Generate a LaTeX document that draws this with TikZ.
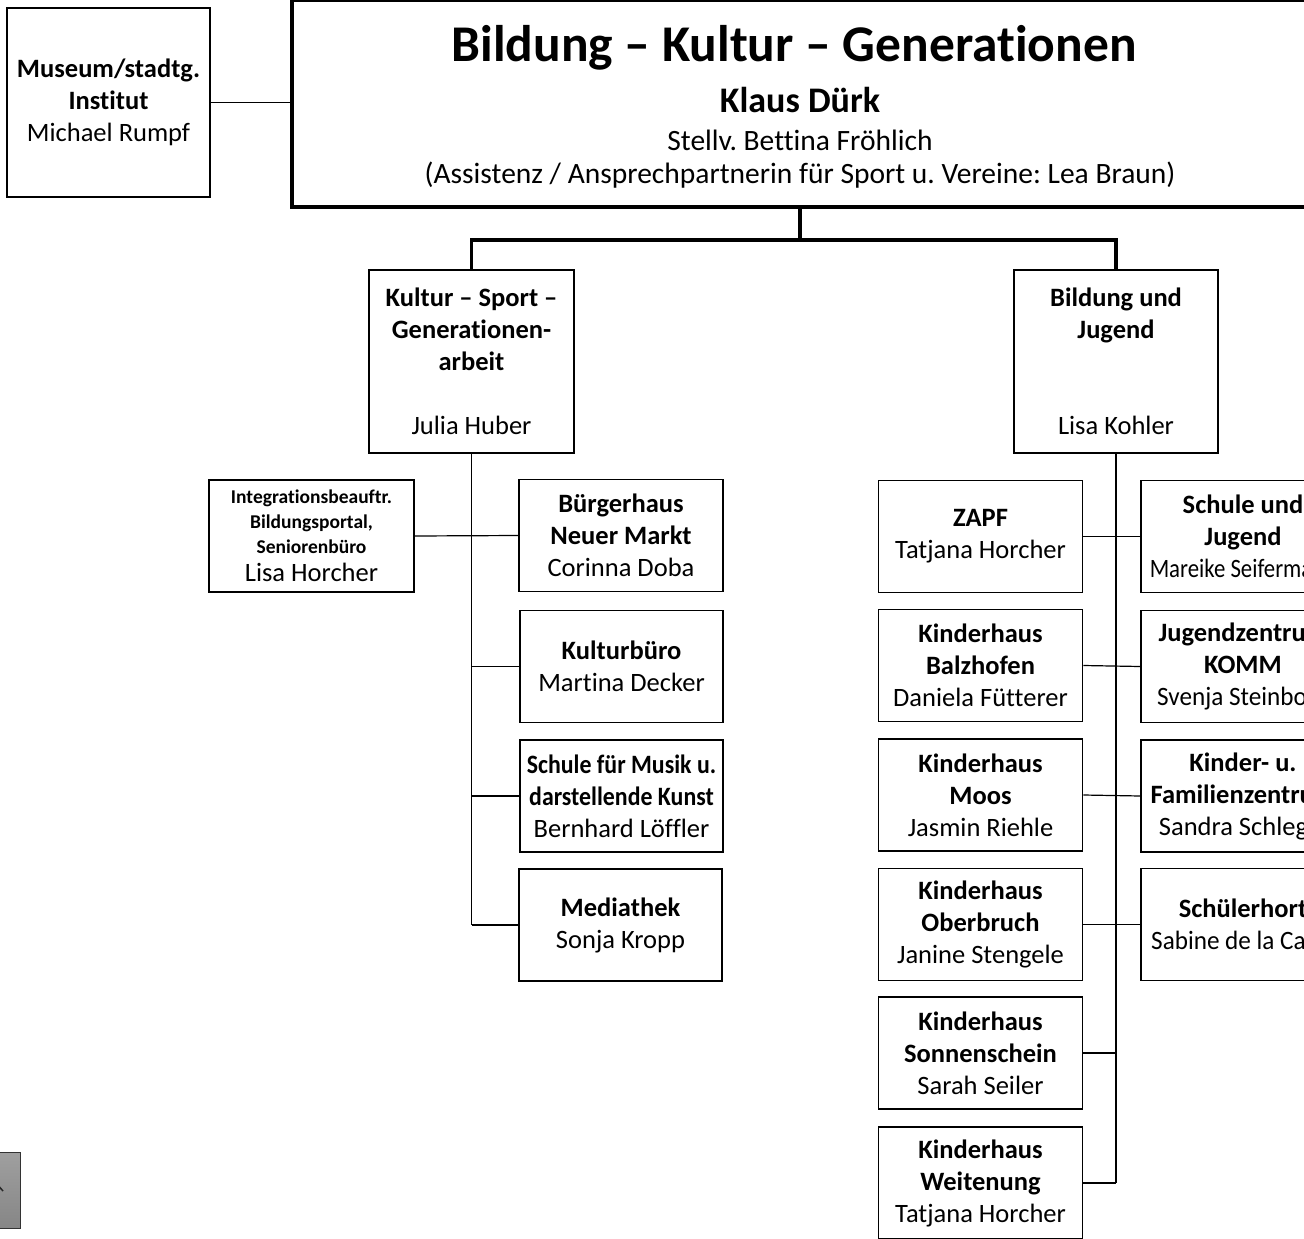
\documentclass[tikz,border=0pt]{standalone}
\usepackage{fontspec}
\setmainfont{Carlito}[Ligatures=NoCommon]
\newcommand\smallbold[1]{{\bfseries\fontsize{19.5}{24}\selectfont #1}}
\frenchspacing
\begin{document}
\begin{tikzpicture}[x=1pt,y=-1pt,
  box/.style={draw, line width=1.5pt, inner sep=0pt, align=center, fill=white,
              font=\fontsize{26.5}{32}\selectfont},
  wide/.style={box, minimum width=204, minimum height=112},
  conn/.style={line width=1.2pt},
  thick conn/.style={line width=3.5pt},
  hdtext/.style={font=\fontsize{29.5}{34}\selectfont},
]
\useasboundingbox (0,0) rectangle (1304,1239);
\clip (0,0) rectangle (1304,1239);

% top box
\node[draw, line width=4pt, minimum width=1016, minimum height=207, inner sep=0pt] (top) at (800,103.5) {};
\node[font=\bfseries\fontsize{51.5}{60}\selectfont] (title) at (794,48) {Bildung – Kultur – Generationen};
\node[font=\bfseries\fontsize{36}{40}\selectfont] (head) at (800,100) {Klaus Dürk};
\node[hdtext] (dep) at (800,140) {Stellv. Bettina Fröhlich};
\node[hdtext] (asst) at (800,175) {(Assistenz / Ansprechpartnerin für Sport u. Vereine: Lea Braun)};

% museum
\node[box, minimum width=203, minimum height=189] (mus) at (108.5,102.5)
  {\textbf{Museum/stadtg.}\\\textbf{Institut}\\Michael Rumpf};

% level 2
\node[box, minimum width=205, minimum height=183] (kul) at (471.5,361.5)
  {\textbf{Kultur – Sport –}\\\textbf{Generationen-}\\\textbf{arbeit}\\[32pt]Julia Huber};
\node[box, minimum width=204, minimum height=183] (bil) at (1116,361.5)
  {\textbf{Bildung und}\\\textbf{Jugend}\\[64pt]Lisa Kohler};

% left branch
\node[box, minimum width=205, minimum height=112] (integ) at (311.5,536)
  {\smallbold{Integrationsbeauftr.}\\[-7pt]\smallbold{Bildungsportal,}\\[-7pt]\smallbold{Seniorenbüro}\\[-4pt]Lisa Horcher};
\node[wide] (bue) at (621,535.5) {\textbf{Bürgerhaus}\\\textbf{Neuer Markt}\\Corinna Doba};
\node[wide, minimum width=203] (kb) at (621.5,666.5) {\textbf{Kulturbüro}\\Martina Decker};
\node[wide, minimum width=203] (smu) at (621.5,796)
  {\scalebox{0.9}[1]{\textbf{Schule für Musik u.}}\\\scalebox{0.9}[1]{\textbf{darstellende Kunst}}\\Bernhard Löffler};
\node[wide, minimum width=203] (med) at (620.5,925) {\textbf{Mediathek}\\Sonja Kropp};

% right branch, left column
\node[wide] (zapf) at (980.5,536.5) {\textbf{ZAPF}\\Tatjana Horcher};
\node[wide] (bal) at (980.5,665.5) {\textbf{Kinderhaus}\\\textbf{Balzhofen}\\Daniela Fütterer};
\node[wide] (moos) at (980.5,795) {\textbf{Kinderhaus}\\\textbf{Moos}\\Jasmin Riehle};
\node[wide] (obe) at (980.5,924.5) {\textbf{Kinderhaus}\\\textbf{Oberbruch}\\Janine Stengele};
\node[wide] (son) at (980.5,1053) {\textbf{Kinderhaus}\\\textbf{Sonnenschein}\\Sarah Seiler};
\node[wide] (wei) at (980.5,1183) {\textbf{Kinderhaus}\\\textbf{Weitenung}\\Tatjana Horcher};

% right branch, right column
\node[wide] (sju) at (1243,536.5) {\textbf{Schule und}\\\textbf{Jugend}\\\scalebox{0.86}[1]{Mareike Seifermann}};
\node[wide] (komm) at (1243,666.5) {\textbf{Jugendzentrum}\\\textbf{KOMM}\\\scalebox{0.95}[1]{Svenja Steinbock}};
\node[wide] (kfz) at (1243,796) {\textbf{Kinder- u.}\\\textbf{Familienzentrum}\\Sandra Schlegel};
\node[wide] (hort) at (1243,924.5) {\textbf{Schülerhort}\\\scalebox{0.95}[1]{Sabine de la Carra}};

% connectors
\draw[conn] (mus.east) -- (mus.east -| top.west);
\coordinate (hub) at (800,240);
\draw[thick conn] (top.south) -- (hub);
\draw[thick conn] (kul.north) |- (hub) -| (bil.north);

\coordinate (lend) at (med.west -| kul.south);
\draw[conn] (kul.south) -- (lend);
\draw[conn] (integ.east) -- (bue.west);
\draw[conn] (kb.west -| kul.south) -- (kb.west);
\draw[conn] (smu.west -| kul.south) -- (smu.west);
\draw[conn] (lend) -- (med.west);

\coordinate (rend) at (wei.east -| bil.south);
\draw[conn] (bil.south) -- (rend);
\draw[conn] (zapf.east) -- (sju.west);
\draw[conn] (bal.east) -- (komm.west);
\draw[conn] (moos.east) -- (kfz.west);
\draw[conn] (obe.east) -- (hort.west);
\draw[conn] (son.east) -- (son.east -| bil.south);
\draw[conn] (wei.east) -- (rend);

% back-to-top button
\shade[top color=gray!75, bottom color=gray!95, draw=black!80, line width=1pt] (-4,1152) rectangle (20,1228);
\draw[line width=1.5pt, black!85] (-4,1183) -- (3,1191);
\end{tikzpicture}
\end{document}
